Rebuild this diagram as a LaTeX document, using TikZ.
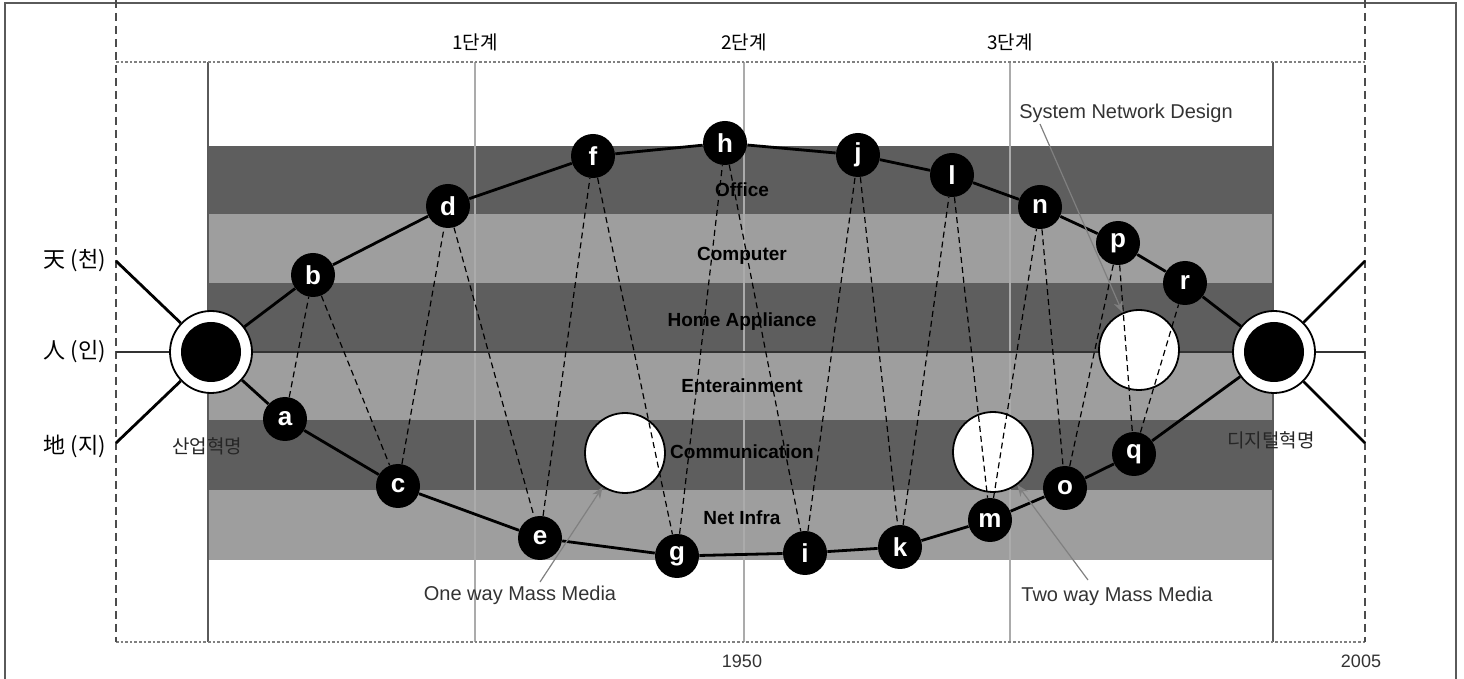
\documentclass[tikz,border=0pt]{standalone}
\usepackage{fontspec}
\setmainfont{Liberation Sans}
\newfontfamily\kor{Noto Sans CJK KR}
\usetikzlibrary{arrows.meta}
\definecolor{banddark}{HTML}{5E5E5E}
\definecolor{bandlight}{HTML}{9E9E9E}
\definecolor{framegray}{HTML}{5A5A5A}
\definecolor{stagegray}{HTML}{ABABAB}
\tikzset{
  >={Stealth[length=2mm,width=1.6mm]},
  % knoten
  era/.style={circle,fill=black,text=white,inner sep=0pt,minimum size=22pt,
              font=\fontsize{13}{13}\selectfont\bfseries},
  rev/.style={circle,fill=white,draw=black,line width=0.9pt,inner sep=0pt,
              minimum size=41pt,
              path picture={\fill[black] (path picture bounding box.center) circle (15pt);}},
  hole/.style={circle,fill=white,draw=black,line width=0.9pt,inner sep=0pt,
               minimum size=40pt},
  bandtxt/.style={font=\fontsize{9.5}{10}\selectfont\bfseries,inner sep=1pt},
  stagetxt/.style={font=\kor\fontsize{9.5}{10}\selectfont,inner sep=1pt},
  sidetxt/.style={font=\kor\fontsize{11}{12}\selectfont,inner sep=1pt},
  revtxt/.style={font=\kor\fontsize{9.5}{10}\selectfont,text=black!85,inner sep=1pt},
  yeartxt/.style={font=\fontsize{9}{10}\selectfont,text=black!80,inner sep=1pt},
  note/.style={font=\fontsize{10}{11}\selectfont,text=black!80,inner sep=1pt},
  % linien
  orbit/.style={draw=black,line width=1.4pt},
  spoke/.style={draw=black,line width=1.4pt},
  axis/.style={draw=black!80,line width=1pt},
  zig/.style={draw=black,line width=0.6pt,dash pattern=on 3pt off 2pt},
  guide/.style={draw=black!70,line width=1.2pt,dash pattern=on 4pt off 2.5pt},
  dotline/.style={draw=gray,line width=1.3pt,densely dotted},
  stageline/.style={draw=stagegray,line width=0.6pt},
  edge/.style={draw=framegray,line width=0.8pt},
  pointer/.style={->,draw=gray,line width=0.6pt},
}

\begin{document}
\begin{tikzpicture}[x=0.5pt,y=-0.5pt]
  \useasboundingbox (0,0) rectangle (1464,679);
  % rahmen
  \draw[edge] (5,679) -- (5,3) -- (1456,3) -- (1456,679);
  % baender
  \fill[banddark]  (208,146) rectangle (1273,214);
  \fill[bandlight] (208,214) rectangle (1273,283);
  \fill[banddark]  (208,283) rectangle (1273,352);
  \fill[bandlight] (208,352) rectangle (1273,420);
  \fill[banddark]  (208,420) rectangle (1273,490);
  \fill[bandlight] (208,490) rectangle (1273,560);
  % raster
  \draw[stageline] (475,62) -- (475,642);
  \draw[stageline] (744,62) -- (744,642);
  \draw[stageline] (1010,62) -- (1010,642);
  \draw[edge] (208,62) -- (208,642);
  \draw[edge] (1273,62) -- (1273,642);
  \draw[dotline] (116,62) -- (1365,62);
  \draw[dotline] (116,642) -- (1365,642);
  \draw[guide] (116,0) -- (116,642);
  \draw[guide] (1365,0) -- (1365,642);

  \node[stagetxt] (s1) at (475,42) {1단계};
  \node[stagetxt] (s2) at (744,42) {2단계};
  \node[stagetxt] (s3) at (1010,42) {3단계};
  \node[yeartxt] (y1) at (742,661) {1950};
  \node[yeartxt] (y2) at (1361,661) {2005};

  % revolutionen
  \node[rev] (lbig) at (211,352) {};
  \node[rev] (rbig) at (1274,352) {};
  \coordinate (ltop) at (116,261);
  \coordinate (lmid) at (116,352);
  \coordinate (lbot) at (116,443);
  \coordinate (rtop) at (1365,261);
  \coordinate (rmid) at (1365,352);
  \coordinate (rbot) at (1365,443);

  % stufen
  \node[era] (a) at (285,419) {a};
  \node[era] (b) at (313,275) {b};
  \node[era] (c) at (398,486) {c};
  \node[era] (d) at (448,206) {d};
  \node[era] (e) at (540,538) {e};
  \node[era] (f) at (593,156) {f};
  \node[era] (g) at (677,556) {g};
  \node[era] (h) at (725,143) {h};
  \node[era] (i) at (805,553) {i};
  \node[era] (j) at (858,155) {j};
  \node[era] (k) at (900,547) {k};
  \node[era] (l) at (952,175) {l};
  \node[era] (m) at (990,520) {m};
  \node[era] (n) at (1040,207) {n};
  \node[era] (o) at (1065,488) {o};
  \node[era] (p) at (1118,243) {p};
  \node[era] (q) at (1134,454) {q};
  \node[era] (r) at (1185,283) {r};

  \draw[axis] (lmid) -- (lbig);
  \draw[axis] (lbig) -- (rbig);
  \draw[axis] (rbig) -- (rmid);

  \node[hole] (hole1) at (625,453) {};
  \node[hole] (hole2) at (993,452) {};
  \node[hole] (hole3) at (1139,350) {};

  \foreach \u/\v in {a/b,b/c,c/d,d/e,e/f,f/g,g/h,h/i,i/j,j/k,k/l,l/m,m/n,n/o,o/p,p/q,q/r}
    \draw[zig] (\u) -- (\v);

  \draw[spoke] (lbig) -- (ltop);
  \draw[spoke] (lbig) -- (lbot);
  \draw[spoke] (rbig) -- (rtop);
  \draw[spoke] (rbig) -- (rbot);
  \draw[orbit] (lbig) -- (b) -- (d) -- (f) -- (h) -- (j) -- (l) -- (n) -- (p) -- (r) -- (rbig);
  \draw[orbit] (lbig) -- (a) -- (c) -- (e) -- (g) -- (i) -- (k) -- (m) -- (o) -- (q) -- (rbig);

  % beschriftung
  \node[bandtxt] (office) at (742,190) {Office};
  \node[bandtxt] (comp) at (742,256) {Computer};
  \node[bandtxt] (home) at (742,322) {Home Appliance};
  \node[bandtxt] (ent) at (742,386) {Enterainment};
  \node[bandtxt] (comm) at (742,452) {Communication};
  \node[bandtxt] (net) at (742,518) {Net Infra};

  \node[sidetxt] (heaven) at (75,261) {天 (천)};
  \node[sidetxt] (man) at (75,352) {人 (인)};
  \node[sidetxt] (earth) at (75,446) {地 (지)};
  \node[revtxt] (indrev) at (207,446) {산업혁명};
  \node[revtxt] (digrev) at (1271,440) {디지털혁명};

  \node[note] (onenote) at (520,595) {One way Mass Media};
  \node[note] (twonote) at (1117,596) {Two way Mass Media};
  \node[note] (sysnote) at (1126,113) {System Network Design};
  \coordinate (onetail) at (540,582);
  \coordinate (twotail) at (1088,580);
  \coordinate (systail) at (1040,124);
  \draw[pointer] (onetail) -- (hole1);
  \draw[pointer] (twotail) -- (hole2);
  \draw[pointer] (systail) -- (hole3);
\end{tikzpicture}
\end{document}
